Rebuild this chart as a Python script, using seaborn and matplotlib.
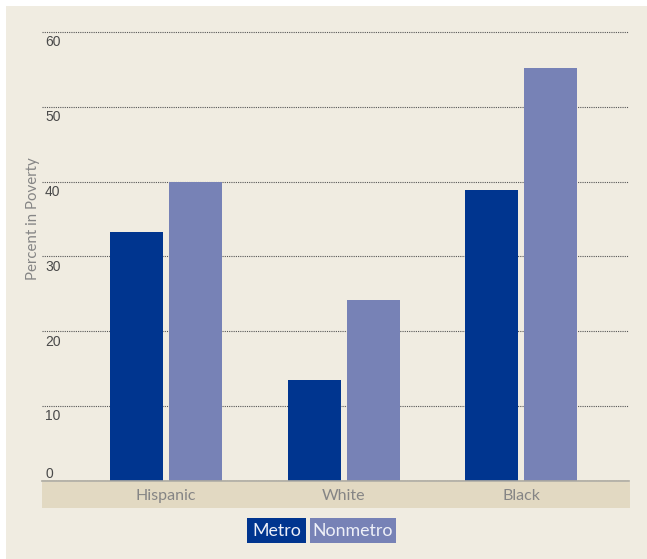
import matplotlib
matplotlib.use("Agg")
import matplotlib.pyplot as plt
from matplotlib.patches import Rectangle
import seaborn as sns
import pandas as pd

# Poverty rates by race/ethnicity, metro vs. nonmetro areas
groups = ["Hispanic", "White", "Black"]
areas = ["Metro", "Nonmetro"]
metro = [33.3, 13.4, 38.9]
nonmetro = [40.0, 24.2, 55.2]
y_ticks = [0, 10, 20, 30, 40, 50, 60]
y_label = "Percent in Poverty"

colors = {"Metro": "#00358f", "Nonmetro": "#7782b6"}
panel_bg = "#f0ece1"
band_bg = "#e2d9c2"
label_grey = "#858585"

df = pd.DataFrame({
    "group": groups * 2,
    "area": [areas[0]] * len(groups) + [areas[1]] * len(groups),
    "pct": metro + nonmetro,
})

sns.set_theme(style="white")
text_font = ["Lato", "DejaVu Sans"]
num_font = ["Liberation Sans", "DejaVu Sans"]
plt.rcParams["font.family"] = text_font

W, H = 647, 559
fig = plt.figure(figsize=(W / 100, H / 100), dpi=100)
fig.patch.set_facecolor("white")
# beige panel behind everything
fig.patches.append(Rectangle((6 / W, 0), 1 - 6 / W, 1 - 6 / H,
                             transform=fig.transFigure, facecolor=panel_bg,
                             edgecolor="none", zorder=-1))

ymax = 60.5
px_per_unit = 7.475
ax_h = ymax * px_per_unit
ax_bottom = 480.5
ax = fig.add_axes([42 / W, (H - ax_bottom) / H, 587 / W, ax_h / H])
ax.set_facecolor("none")

sns.barplot(data=df, x="group", y="pct", hue="area", order=groups,
            hue_order=areas, palette=colors, saturation=1, width=0.665,
            gap=0.1, legend=False, ax=ax, zorder=3, linewidth=0,
            edgecolor="none")

ax.set_xlim(-0.699, 2.608)
ax.set_ylim(0, ymax)
ax.set_yticks(y_ticks)
ax.grid(axis="y", linestyle=(0, (1, 1)), color="#555555", linewidth=0.8)
ax.grid(axis="x", visible=False)
ax.set_axisbelow(True)

for side in ("left", "top", "right"):
    ax.spines[side].set_visible(False)
ax.spines["bottom"].set_color("#aca99f")
ax.spines["bottom"].set_linewidth(1.2)
ax.spines["bottom"].set_zorder(4)

ax.tick_params(axis="y", length=0, labelleft=False)
ax.tick_params(axis="x", length=0, pad=6, labelcolor=label_grey, labelsize=11.5)
ax.set_xlabel("")

# category band under the axis
ax.add_patch(Rectangle((0, -(508 - ax_bottom) / ax_h), 1.002,
                       (508 - 482) / ax_h, transform=ax.transAxes,
                       facecolor=band_bg, edgecolor="none", clip_on=False,
                       zorder=0.5))

# y tick labels sit just under their gridlines, inside the plot
ytrans = ax.get_yaxis_transform()
for v in y_ticks:
    if v == 0:
        ax.annotate(str(v), xy=(0, v), xycoords=ytrans, xytext=(3, 3),
                    textcoords="offset pixels", ha="left", va="baseline",
                    fontsize=10, color="#4a4a4a", family=num_font)
    else:
        ax.annotate(str(v), xy=(0, v), xycoords=ytrans, xytext=(3, -3.5),
                    textcoords="offset pixels", ha="left", va="top",
                    fontsize=10, color="#4a4a4a", family=num_font)

ax.set_ylabel(y_label, color=label_grey, fontsize=10.8)
ax.yaxis.set_label_coords(-0.004, 0.578)

# legend as colored boxes with white text
legend_boxes = [(areas[0], 247, 306), (areas[1], 310, 396)]
top_px, bot_px = 518, 543
for name, x0, x1 in legend_boxes:
    fig.patches.append(Rectangle((x0 / W, (H - bot_px) / H), (x1 - x0) / W,
                                 (bot_px - top_px) / H,
                                 transform=fig.transFigure,
                                 facecolor=colors[name], edgecolor="none"))
    fig.text((x0 + x1) / 2 / W, (H - (top_px + bot_px) / 2) / H, name,
             ha="center", va="center", fontsize=12.8, color="#eef0f8")

fig.savefig("out.png", dpi=100)
